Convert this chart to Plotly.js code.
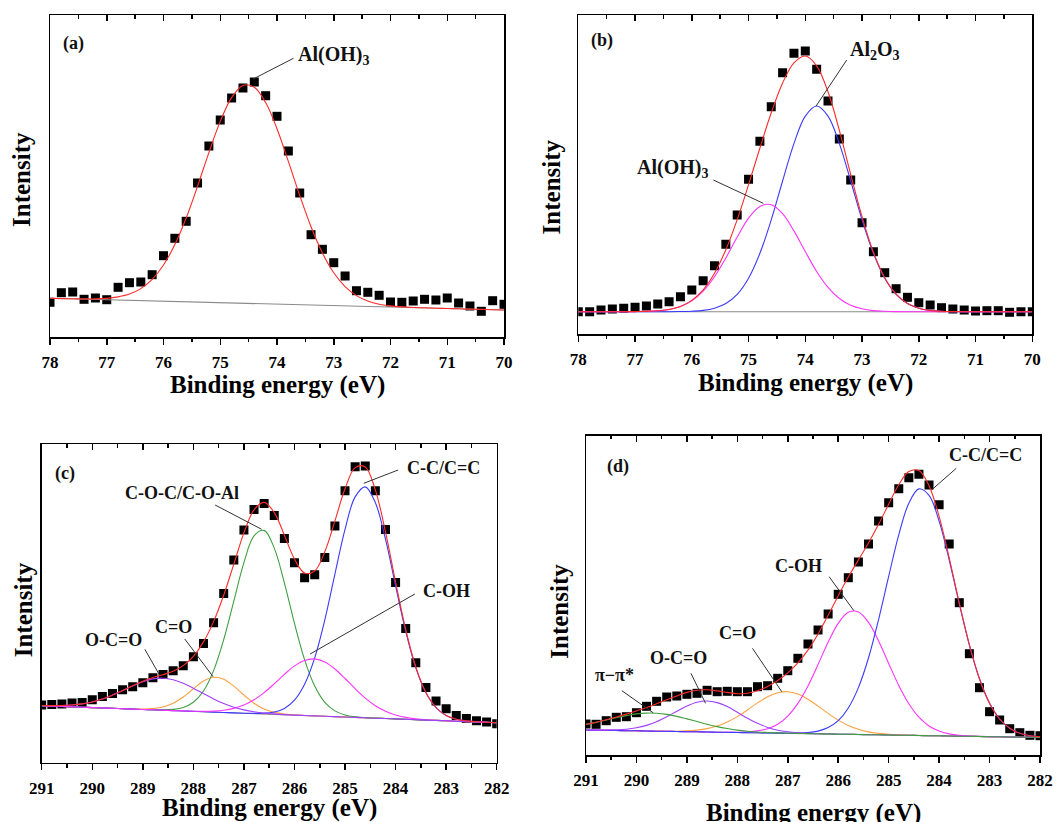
<!DOCTYPE html>
<html><head><meta charset="utf-8">
<script src="https://cdn.plot.ly/plotly-3.0.1.min.js"></script>
<style>html,body{margin:0;padding:0;background:#fff}#chart{width:1061px;height:822px}</style>
</head><body><div id="chart"></div>
<script>
// ---------- energy grids ----------
const energyAl = [78,77.8,77.6,77.4,77.2,77,76.8,76.6,76.4,76.2,76,75.8,75.6,75.4,75.2,75,74.8,74.6,74.4,74.2,74,73.8,73.6,73.4,73.2,73,72.8,72.6,72.4,72.2,72,71.8,71.6,71.4,71.2,71,70.8,70.6,70.4,70.2,70];
const energyC = [291,290.8,290.6,290.4,290.2,290,289.8,289.6,289.4,289.2,289,288.8,288.6,288.4,288.2,288,287.8,287.6,287.4,287.2,287,286.8,286.6,286.4,286.2,286,285.8,285.6,285.4,285.2,285,284.8,284.6,284.4,284.2,284,283.8,283.6,283.4,283.2,283,282.8,282.6,282.4,282.2,282];

// ---------- (a) Al 2p ----------
const aMeasured = [34.7,44.3,45,37.7,39,37.3,49.7,54.3,55,62.3,81.3,98.7,115.7,154,191,217,239,249,255,241.3,220.7,186,144,102.3,87.7,74.3,61,46.3,44.7,41.7,35,34.7,36,37.7,37,39,34,31,25.7,36.3,32.7];
const aFit = [38.7,38.4,38.2,38.1,38.1,38.6,40.1,42.9,48.4,57.6,72.0,92.4,119.0,150.8,184.4,215.6,239.4,251.6,249.8,234.4,208.3,175.6,141.6,110.2,84.0,64.2,50.4,41.4,36.0,32.8,31.1,30.1,29.5,29.2,28.8,28.5,28.2,27.9,27.6,27.3,27.0];
const aBaseX = [78,70];
const aBaseY = [38.7,27.0];

// ---------- (b) Al 2p ----------
const bMeasured = [22.3,22.3,24,25,25.7,26.7,28,30,32.3,37.3,44,53.3,68.3,89.7,119,154.7,192.7,227.3,261.3,280.7,283,264.7,233,195,154,111.3,82.3,61.3,45.3,36.7,31.3,29,26.3,25,24,23,23.3,23.3,21.7,22.3,22.3];
const bFit = [22.3,22.3,22.3,22.3,22.3,22.4,22.6,23.2,24.5,27.5,33.6,44.1,60.8,84.3,114.4,149.3,186.0,221.2,251.0,271.2,278.0,268.2,242.2,203.6,159.5,117.1,81.8,56.2,39.8,30.5,25.8,23.6,22.8,22.5,22.3,22.3,22.3,22.3,22.3,22.3,22.3];
const bAlOH3 = [22.3,22.3,22.3,22.3,22.3,22.4,22.6,23.2,24.5,27.4,33.1,42.8,57.3,76.1,97.0,115.8,127.6,129.3,120.3,103.1,82.4,62.5,46.6,35.5,28.8,25.2,23.4,22.7,22.4,22.3,22.3,22.3,22.3,22.3,22.3,22.3,22.3,22.3,22.3,22.3,22.3];
const bAl2O3 = [22.3,22.3,22.3,22.3,22.3,22.3,22.3,22.3,22.3,22.5,22.8,23.6,25.8,30.5,39.7,55.8,80.7,114.2,153.0,190.4,217.9,228.0,217.9,190.4,153.0,114.2,80.7,55.8,39.7,30.5,25.8,23.6,22.8,22.5,22.3,22.3,22.3,22.3,22.3,22.3,22.3];
const bBaseX = [78,70];
const bBaseY = [22.3,22.3];

// ---------- (c) C 1s ----------
const cMeasured = [57.7,58.3,58.7,59.7,60.3,63.0,66.3,69.3,73.0,76.0,80.0,85.0,88.3,92.0,97.0,106.0,119.3,140.0,169.3,202.7,232.7,253.3,259.3,247.3,224.3,200.0,185.0,188.0,205.3,236.7,272.0,296.0,296.7,272.0,233.3,180.3,134.3,100.0,75.3,61.7,54.0,47.3,44.3,42.0,40.7,39.0];
const cFit = [57.2,57.1,57.2,57.7,58.8,60.7,63.6,67.6,72.1,76.9,81.4,85.1,88.0,91.5,97.1,106.4,120.8,141.1,167.4,198.5,229.8,252.9,260.3,250.1,227.5,203.7,189.6,191.7,211.0,241.9,273.9,295.1,295.7,272.6,230.8,180.7,133.2,95.7,70.2,55.2,47.2,43.5,41.8,41.0,40.4,40.0];
const cCC = [57.0,56.6,56.3,55.9,55.5,55.1,54.7,54.4,54.0,53.6,53.2,52.9,52.5,52.1,51.7,51.3,51.0,50.6,50.2,49.8,49.5,49.3,49.5,50.7,54.3,62.6,78.5,104.9,142.8,188.6,233.4,265.8,275.8,260.0,223.5,176.8,131.3,94.8,69.9,55.1,47.2,43.5,41.8,41.0,40.4,40.0];
const cCOC = [57.0,56.6,56.3,55.9,55.5,55.1,54.7,54.4,54.0,53.6,53.2,53.0,52.8,53.3,55.2,60.4,71.7,92.1,123.0,161.6,200.1,226.8,232.3,214.6,179.8,139.3,103.1,76.6,60.3,51.8,47.7,45.9,45.1,44.6,44.2,43.8,43.4,43.0,42.6,42.3,41.9,41.5,41.1,40.8,40.4,40.0];
const cCOH = [57.0,56.6,56.3,55.9,55.5,55.1,54.7,54.4,54.0,53.6,53.2,52.9,52.5,52.1,51.8,51.5,51.4,51.6,52.4,54.3,57.7,62.9,70.1,78.9,88.3,96.8,102.3,103.8,100.7,93.7,84.2,74.0,64.6,57.0,51.5,47.7,45.3,43.9,43.0,42.4,41.9,41.5,41.1,40.8,40.4,40.0];
const cCO = [57.0,56.6,56.3,55.9,55.5,55.1,54.7,54.4,54.0,53.7,53.6,54.1,55.7,59.4,65.7,73.9,81.6,85.4,83.5,76.6,67.7,59.4,53.6,50.3,48.6,47.8,47.2,46.8,46.4,46.1,45.7,45.3,44.9,44.5,44.2,43.8,43.4,43.0,42.6,42.3,41.9,41.5,41.1,40.8,40.4,40.0];
const cOCO = [57.2,57.1,57.2,57.7,58.8,60.7,63.6,67.6,72.1,76.8,81.0,83.8,84.5,83.0,79.5,74.5,69.1,63.8,59.1,55.4,52.8,50.9,49.6,48.8,48.1,47.6,47.2,46.8,46.4,46.1,45.7,45.3,44.9,44.5,44.2,43.8,43.4,43.0,42.6,42.3,41.9,41.5,41.1,40.8,40.4,40.0];
const cBaseX = [291,282];
const cBaseY = [57.0,40.0];

// ---------- (d) C 1s ----------
const dMeasured = [31,30.7,34.3,37.7,38.3,42.3,48.7,53.7,58,59,60.7,61.7,64.7,63.3,63.7,63.3,63.3,68.3,69.3,76.7,84.3,96.7,111,125,141,160.7,177.3,193,211,234,252.3,266.3,277.3,280.7,270,250.3,211,152.3,101.3,67.3,43.3,35,26.3,22.3,19.7,19.3];
const dFit = [30.6,32.7,35.2,38.0,40.9,44.1,47.5,51.3,55.2,59.1,62.6,64.8,65.2,64.1,62.6,61.3,61.8,64.3,68.6,74.5,82.2,92.1,104.9,121.0,139.8,159.2,177.9,195.1,212.1,230.7,250.8,270.3,283.5,284.4,269.3,238.6,197.1,151.9,110.2,76.3,51.8,36.0,26.7,21.7,19.3,18.1];
const dCC = [25.0,24.8,24.7,24.5,24.3,24.2,24.0,23.8,23.7,23.5,23.3,23.2,23.0,22.8,22.7,22.5,22.3,22.2,22.0,21.9,21.8,21.9,22.4,23.9,27.4,34.3,47.0,67.4,97.0,135.4,178.6,220.2,251.8,266.1,259.6,233.9,195.0,151.1,109.9,76.2,51.7,36.0,26.7,21.7,19.3,18.1];
const dCOH = [25.0,24.8,24.7,24.5,24.3,24.2,24.0,23.8,23.7,23.5,23.3,23.2,23.0,22.8,22.8,22.8,23.1,24.1,26.3,30.8,38.9,51.6,69.1,90.5,112.8,131.6,142.7,143.0,132.6,114.1,91.6,69.6,51.3,37.8,29.0,23.9,21.1,19.6,19.0,18.6,18.4,18.2,18.0,17.8,17.7,17.5];
const dCO = [25.0,24.8,24.7,24.5,24.3,24.2,24.0,23.9,23.8,23.8,24.1,24.9,26.4,28.9,33.0,38.4,45.0,52.1,58.2,62.2,63.3,60.9,55.7,48.9,41.6,34.9,29.6,25.7,23.1,21.6,20.6,20.1,19.8,19.5,19.3,19.2,19.0,18.8,18.7,18.5,18.3,18.2,18.0,17.8,17.7,17.5];
const dOCO = [25.0,24.9,24.9,25.2,25.8,27.2,29.6,33.3,38.2,43.7,49.0,52.8,54.0,52.4,48.4,42.7,36.8,31.7,27.6,24.8,23.2,22.2,21.6,21.3,21.0,20.8,20.7,20.5,20.3,20.2,20.0,19.8,19.7,19.5,19.3,19.2,19.0,18.8,18.7,18.5,18.3,18.2,18.0,17.8,17.7,17.5];
const dPiPi = [30.6,32.6,35.0,37.3,39.4,41.1,41.9,41.7,40.6,38.6,36.1,33.5,30.8,28.4,26.5,24.9,23.8,23.0,22.5,22.1,21.8,21.6,21.4,21.2,21.0,20.8,20.7,20.5,20.3,20.2,20.0,19.8,19.7,19.5,19.3,19.2,19.0,18.8,18.7,18.5,18.3,18.2,18.0,17.8,17.7,17.5];
const dBaseX = [291,282];
const dBaseY = [25.0,17.5];

// ---------- styling ----------
const FONT = "'Liberation Serif', 'Times New Roman', Times, serif";
const RED = '#ff2a2a', BLUE = '#3a3aff', MAG = '#ff33ff', GREEN = '#3f9f3f', ORANGE = '#ffa040', PURPLE = '#a040ff', GRAY = '#8a8a8a';

function pts(x, y, xa, ya) {
  return {x, y, xaxis: xa, yaxis: ya, type: 'scatter', mode: 'markers',
    marker: {symbol: 'square', size: 9, color: '#000'}, hoverinfo: 'skip', showlegend: false};
}
function curve(x, y, color, xa, ya) {
  return {x, y, xaxis: xa, yaxis: ya, type: 'scatter', mode: 'lines',
    line: {color, width: 1.1, shape: 'spline', smoothing: 1}, hoverinfo: 'skip', showlegend: false};
}
function ghost(x, y, xa, ya) {
  return {x, y, xaxis: xa, yaxis: ya, type: 'scatter', mode: 'none', hoverinfo: 'skip', showlegend: false};
}

const traces = [
  pts(energyAl, aMeasured, 'x', 'y'),
  curve(aBaseX, aBaseY, GRAY, 'x', 'y'),
  curve(energyAl, aFit, RED, 'x', 'y'),
  ghost(energyAl, aMeasured, 'x5', 'y'),
  pts(energyAl, bMeasured, 'x2', 'y2'),
  curve(bBaseX, bBaseY, GRAY, 'x2', 'y2'),
  curve(energyAl, bAl2O3, BLUE, 'x2', 'y2'),
  curve(energyAl, bAlOH3, MAG, 'x2', 'y2'),
  curve(energyAl, bFit, RED, 'x2', 'y2'),
  ghost(energyAl, bMeasured, 'x6', 'y2'),
  pts(energyC, cMeasured, 'x3', 'y3'),
  curve(cBaseX, cBaseY, GRAY, 'x3', 'y3'),
  curve(energyC, cCO, ORANGE, 'x3', 'y3'),
  curve(energyC, cCOC, GREEN, 'x3', 'y3'),
  curve(energyC, cCC, BLUE, 'x3', 'y3'),
  curve(energyC, cCOH, MAG, 'x3', 'y3'),
  curve(energyC, cOCO, PURPLE, 'x3', 'y3'),
  curve(energyC, cFit, RED, 'x3', 'y3'),
  ghost(energyC, cMeasured, 'x7', 'y3'),
  pts(energyC, dMeasured, 'x4', 'y4'),
  curve(dBaseX, dBaseY, GRAY, 'x4', 'y4'),
  curve(energyC, dCO, ORANGE, 'x4', 'y4'),
  curve(energyC, dCOH, MAG, 'x4', 'y4'),
  curve(energyC, dCC, BLUE, 'x4', 'y4'),
  curve(energyC, dOCO, PURPLE, 'x4', 'y4'),
  curve(energyC, dPiPi, GREEN, 'x4', 'y4'),
  curve(energyC, dFit, RED, 'x4', 'y4'),
  ghost(energyC, dMeasured, 'x8', 'y4'),
];

function xAxis(domain, anchor, range) {
  return {domain, anchor, range, autorange: false, showline: true, linecolor: '#000', linewidth: 1.5, mirror: true,
    ticks: 'outside', ticklen: 6, tickwidth: 1.5, tickcolor: '#000', tickmode: 'linear', tick0: 0, dtick: 1,
    minor: {ticks: 'outside', tickmode: 'linear', tick0: 0, dtick: 0.5, ticklen: 3.5, tickwidth: 1.5, tickcolor: '#000', showgrid: false},
    showgrid: false, zeroline: false, ticklabelstandoff: 3,
    tickfont: {family: FONT, size: 17, color: '#000', weight: 'bold'}, fixedrange: true};
}
function topAxis(over, anchor, range) {
  return {overlaying: over, anchor, side: 'top', range, autorange: false, showline: false,
    ticks: 'inside', ticklen: 6, tickwidth: 1.5, tickcolor: '#000', tickmode: 'linear', tick0: 0, dtick: 1,
    minor: {ticks: 'inside', tickmode: 'linear', tick0: 0, dtick: 0.5, ticklen: 3.5, tickwidth: 1.5, tickcolor: '#000', showgrid: false},
    showticklabels: false, showgrid: false, zeroline: false, fixedrange: true};
}
function yAxis(domain, anchor, range) {
  return {domain, anchor, range, autorange: false, showline: true, linecolor: '#000', linewidth: 1.5, mirror: true,
    ticks: '', showticklabels: false, showgrid: false, zeroline: false, fixedrange: true};
}

const W = 1061, H = 822;
const px = v => v / W, py = v => 1 - v / H;

// leader-line labels: text position, line start, line end (data coords of each panel)
const labels = [
  {ax: 'x', ay: 'y', text: 'Al(OH)<sub>3</sub>', size: 20, tx: 73.01, ty: 282, lx0: 73.71, ly0: 278.7, lx1: 74.42, ly1: 258},
  {ax: 'x2', ay: 'y2', text: 'Al<sub>2</sub>O<sub>3</sub>', size: 20, tx: 72.77, ty: 284, lx0: 73.27, ly0: 274, lx1: 73.81, ly1: 228},
  {ax: 'x2', ay: 'y2', text: 'Al(OH)<sub>3</sub>', size: 20, tx: 76.34, ty: 166, lx0: 75.62, ly0: 154, lx1: 74.74, ly1: 130.7},
  {ax: 'x3', ay: 'y3', text: 'C-O-C/C-O-Al', size: 18, tx: 288.23, ty: 269.4, lx0: 287.57, ly0: 257.7, lx1: 286.65, ly1: 233.4},
  {ax: 'x3', ay: 'y3', text: 'C-C/C=C', size: 18, tx: 283.06, ty: 294.4, lx0: 283.95, ly0: 292.7, lx1: 284.63, ly1: 279.4},
  {ax: 'x3', ay: 'y3', text: 'C-OH', size: 18, tx: 283.0, ty: 172, lx0: 283.62, ly0: 168.7, lx1: 285.69, ly1: 108.7},
  {ax: 'x3', ay: 'y3', text: 'C=O', size: 18, tx: 288.39, ty: 136, lx0: 288.17, ly0: 123.7, lx1: 287.61, ly1: 86},
  {ax: 'x3', ay: 'y3', text: 'O-C=O', size: 18, tx: 289.58, ty: 122.7, lx0: 288.96, ly0: 113.4, lx1: 288.67, ly1: 87.7},
  {ax: 'x4', ay: 'y4', text: 'C-C/C=C', size: 18, tx: 283.08, ty: 300, lx0: 283.66, ly0: 286.7, lx1: 284.15, ly1: 265},
  {ax: 'x4', ay: 'y4', text: 'C-OH', size: 18, tx: 286.78, ty: 189, lx0: 286.18, ly0: 178.3, lx1: 285.69, ly1: 144.3},
  {ax: 'x4', ay: 'y4', text: 'C=O', size: 18, tx: 287.99, ty: 121.7, lx0: 287.70, ly0: 106.7, lx1: 287.12, ly1: 63.3},
  {ax: 'x4', ay: 'y4', text: 'O-C=O', size: 18, tx: 289.17, ty: 97.3, lx0: 288.92, ly0: 81.7, lx1: 288.63, ly1: 51.7},
  {ax: 'x4', ay: 'y4', text: 'π−π*', size: 18, tx: 290.43, ty: 80, lx0: 290.29, ly0: 64.3, lx1: 289.67, ly1: 42.3},
];
const panelTags = [
  {ax: 'x', ay: 'y', text: '(a)', tx: 77.59, ty: 293.7},
  {ax: 'x2', ay: 'y2', text: '(b)', tx: 77.59, ty: 293.3},
  {ax: 'x3', ay: 'y3', text: '(c)', tx: 290.53, ty: 289.4},
  {ax: 'x4', ay: 'y4', text: '(d)', tx: 290.36, ty: 288.3},
];
const xTitles = [[277, 385], [805.3, 383.3], [269.2, 808.3], [813, 813.3]];
const yTitles = [[22, 180], [551.7, 186.7], [23.3, 610], [560, 611.7]];

const annotations = [];
const shapes = [];
labels.forEach(l => {
  annotations.push({xref: l.ax, yref: l.ay, x: l.tx, y: l.ty, text: '<b>' + l.text + '</b>', showarrow: false,
    xanchor: 'center', yanchor: 'middle', font: {family: FONT, size: l.size, color: '#111', weight: 'bold'}});
  shapes.push({type: 'line', xref: l.ax, yref: l.ay, x0: l.lx0, y0: l.ly0, x1: l.lx1, y1: l.ly1,
    line: {color: '#333', width: 1}});
});
panelTags.forEach(t => annotations.push({xref: t.ax, yref: t.ay, x: t.tx, y: t.ty, text: '<b>' + t.text + '</b>',
  showarrow: false, xanchor: 'center', yanchor: 'middle', font: {family: FONT, size: 18, color: '#111', weight: 'bold'}}));
xTitles.forEach(p => annotations.push({xref: 'paper', yref: 'paper', x: px(p[0]), y: py(p[1]), text: '<b>Binding energy (eV)</b>',
  showarrow: false, xanchor: 'center', yanchor: 'middle', font: {family: FONT, size: 25, color: '#000', weight: 'bold'}}));
yTitles.forEach(p => annotations.push({xref: 'paper', yref: 'paper', x: px(p[0]), y: py(p[1]), text: '<b>Intensity</b>', textangle: -90,
  showarrow: false, xanchor: 'center', yanchor: 'middle', font: {family: FONT, size: 25, color: '#000', weight: 'bold'}}));

const layout = {
  width: W, height: H, margin: {l: 0, r: 0, t: 0, b: 0}, paper_bgcolor: '#fff', plot_bgcolor: '#fff', showlegend: false,
  font: {family: FONT},
  xaxis: xAxis([px(50), px(504)], 'y', [78, 70]),
  yaxis: yAxis([py(337), py(15)], 'x', [0, 322]),
  xaxis2: xAxis([px(578.3), px(1032.3)], 'y2', [78, 70]),
  yaxis2: yAxis([py(334), py(15)], 'x2', [0, 319]),
  xaxis3: xAxis([px(41.7), px(496.7)], 'y3', [291, 282]),
  yaxis3: yAxis([py(762.7), py(444)], 'x3', [0, 318.7]),
  xaxis4: xAxis([px(586), px(1040)], 'y4', [291, 282]),
  yaxis4: yAxis([py(755), py(435.7)], 'x4', [0, 319.3]),
  xaxis5: topAxis('x', 'y', [78, 70]),
  xaxis6: topAxis('x2', 'y2', [78, 70]),
  xaxis7: topAxis('x3', 'y3', [291, 282]),
  xaxis8: topAxis('x4', 'y4', [291, 282]),
  annotations, shapes
};

Plotly.newPlot('chart', traces, layout, {displayModeBar: false, staticPlot: true});
</script>
</body></html>
